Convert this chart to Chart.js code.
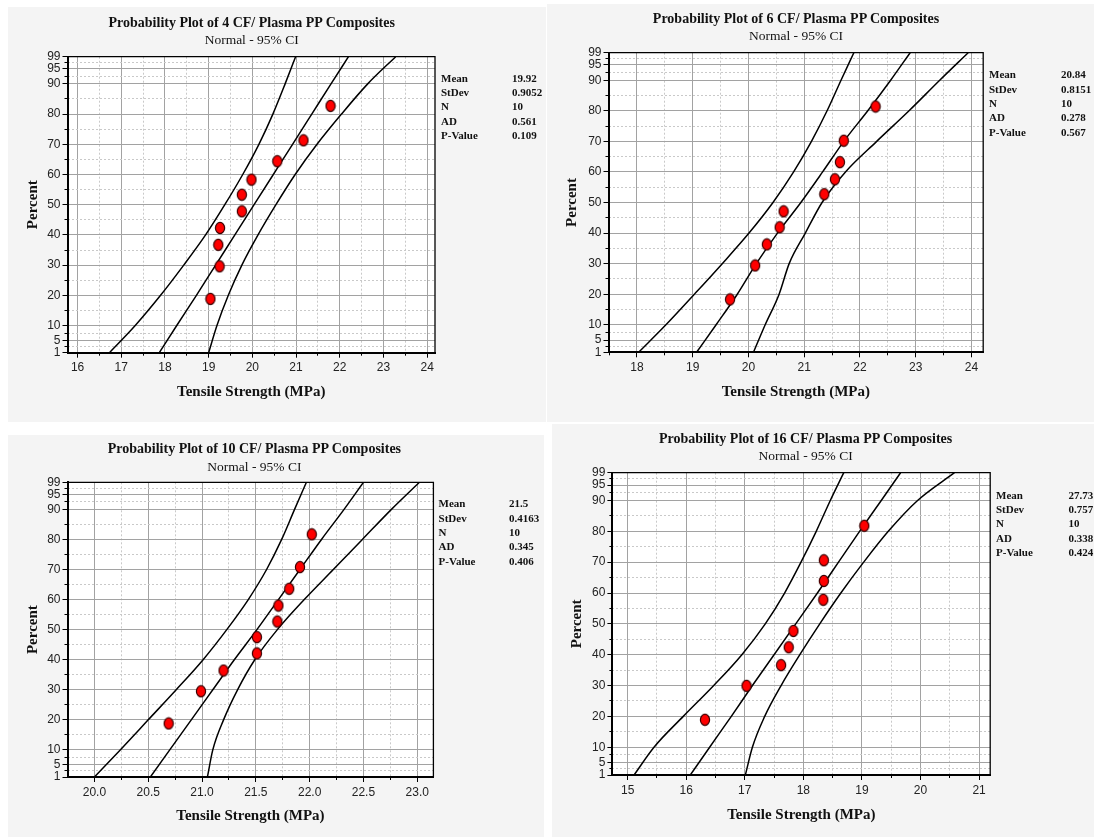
<!DOCTYPE html>
<html>
<head>
<meta charset="utf-8">
<script src="https://cdn.jsdelivr.net/npm/chart.js@4.4.1/dist/chart.umd.min.js"></script>
<style>
	body {
		margin: 0;
		width: 1094px;
		height: 837px;
		background: #ffffff;
		position: relative;
		overflow: hidden;
	}
	.panel {
		position: absolute;
		background: #f4f4f4;
	}
	.panel canvas {
		position: absolute;
		left: 0;
		top: 0;
	}
	.ptitle, .psub {
		position: absolute;
		transform: translate(-50%, -50%);
		white-space: nowrap;
		font-family: "Liberation Serif", serif;
		color: #111;
	}
	.ptitle {
		font-size: 14px;
		font-weight: bold;
	}
	.psub {
		font-size: 13.5px;
	}
	.stat {
		position: absolute;
		transform: translateY(-50%);
		white-space: nowrap;
		font-family: "Liberation Serif", serif;
		font-size: 11px;
		font-weight: bold;
		color: #111;
	}
</style>
</head>
<body>
<script>
"use strict";

const pctLevels = [1, 10, 20, 30, 40, 50, 60, 70, 80, 90, 99];
const yTickValues = [1, 5, 10, 20, 30, 40, 50, 60, 70, 80, 90, 95, 99];
const statLabels = ["Mean", "StDev", "N", "AD", "P-Value"];

// 4 CF
const cf4Title = "Probability Plot of 4 CF/ Plasma PP Composites";
const cf4X = [19.04, 19.25, 19.22, 19.26, 19.76, 19.76, 19.98, 20.57, 21.17, 21.79];
const cf4Pct = [18.8, 29.6, 36.7, 42.3, 47.8, 53.3, 58.3, 64.4, 71.3, 82.7];
const cf4Fit = [17.87, 18.27, 18.72, 19.16, 19.60, 20.04, 20.48, 20.92, 21.36, 21.80, 22.20];
const cf4Lower = [16.73, 17.32, 17.90, 18.43, 18.93, 19.37, 19.78, 20.15, 20.47, 20.75, 20.99];
const cf4Upper = [19.00, 19.19, 19.45, 19.76, 20.13, 20.54, 20.98, 21.48, 22.04, 22.64, 23.28];
const cf4Ticks = [16, 17, 18, 19, 20, 21, 22, 23, 24];
const cf4Stats = ["19.92", "0.9052", "10", "0.561", "0.109"];

// 6 CF
const cf6Title = "Probability Plot of 6 CF/ Plasma PP Composites";
const cf6X = [19.67, 20.12, 20.33, 20.56, 20.63, 21.36, 21.55, 21.64, 21.71, 22.28];
const cf6Pct = [18.3, 29.4, 36.3, 41.9, 47.1, 52.7, 57.6, 63.2, 70.2, 81.4];
const cf6Fit = [19.07, 19.42, 19.80, 20.14, 20.52, 20.94, 21.33, 21.71, 22.14, 22.55, 22.90];
const cf6Lower = [18.03, 18.52, 19.03, 19.53, 20.01, 20.44, 20.81, 21.13, 21.41, 21.66, 21.89];
const cf6Upper = [20.09, 20.30, 20.55, 20.73, 21.02, 21.32, 21.74, 22.30, 22.88, 23.43, 23.94];
const cf6Ticks = [18, 19, 20, 21, 22, 23, 24];
const cf6Stats = ["20.84", "0.8151", "10", "0.278", "0.567"];

// 10 CF
const cf10Title = "Probability Plot of 10 CF/ Plasma PP Composites";
const cf10X = [20.69, 20.99, 21.20, 21.51, 21.51, 21.70, 21.71, 21.81, 21.91, 22.02];
const cf10Pct = [18.8, 29.5, 36.4, 42.1, 47.5, 52.7, 58.0, 63.6, 70.8, 81.7];
const cf10Fit = [20.52, 20.70, 20.90, 21.10, 21.30, 21.51, 21.71, 21.91, 22.11, 22.32, 22.50];
const cf10Lower = [20.00, 20.24, 20.50, 20.76, 21.01, 21.23, 21.43, 21.60, 21.74, 21.86, 21.97];
const cf10Upper = [21.05, 21.10, 21.20, 21.33, 21.49, 21.70, 21.95, 22.22, 22.49, 22.76, 23.02];
const cf10Ticks = [20.0, 20.5, 21.0, 21.5, 22.0, 22.5, 23.0];
const cf10Stats = ["21.5", "0.4163", "10", "0.345", "0.406"];

// 16 CF
const cf16Title = "Probability Plot of 16 CF/ Plasma PP Composites";
const cf16X = [16.32, 17.03, 17.62, 17.75, 17.83, 18.34, 18.35, 18.35, 19.04];
const cf16Pct = [18.9, 29.9, 36.6, 42.4, 47.7, 57.8, 63.9, 70.6, 81.8];
const cf16Fit = [16.07, 16.40, 16.77, 17.13, 17.50, 17.87, 18.24, 18.60, 18.96, 19.33, 19.66];
const cf16Lower = [15.11, 15.45, 15.95, 16.47, 16.95, 17.35, 17.68, 17.96, 18.22, 18.46, 18.69];
const cf16Upper = [17.01, 17.13, 17.34, 17.62, 17.94, 18.28, 18.64, 19.03, 19.45, 19.95, 20.58];
const cf16Ticks = [15, 16, 17, 18, 19, 20, 21];
const cf16Stats = ["27.73", "0.757", "10", "0.338", "0.424"];

const panels = [
	{ title: cf4Title, x: cf4X, pct: cf4Pct, fit: cf4Fit, lower: cf4Lower, upper: cf4Upper, ticks: cf4Ticks, stats: cf4Stats, min: 15.77, max: 24.18, digits: 0 },
	{ title: cf6Title, x: cf6X, pct: cf6Pct, fit: cf6Fit, lower: cf6Lower, upper: cf6Upper, ticks: cf6Ticks, stats: cf6Stats, min: 17.49, max: 24.21, digits: 0 },
	{ title: cf10Title, x: cf10X, pct: cf10Pct, fit: cf10Fit, lower: cf10Lower, upper: cf10Upper, ticks: cf10Ticks, stats: cf10Stats, min: 19.75, max: 23.15, digits: 1 },
	{ title: cf16Title, x: cf16X, pct: cf16Pct, fit: cf16Fit, lower: cf16Lower, upper: cf16Upper, ticks: cf16Ticks, stats: cf16Stats, min: 14.74, max: 21.19, digits: 0 },
];

// where each panel sits on the page, and where its plot box sits inside it
const layouts = [
	{ box: [8, 7, 538, 415], area: [59.5, 49.7, 427, 345.7], titleX: 243.7, titleY: 16, subY: 33, xLabY: 384.7, yLabX: 25, statX: 433, valX: 504, statY: 70.7 },
	{ box: [547, 4, 547, 418], area: [61.5, 48.7, 436.2, 348.3], titleX: 249, titleY: 15, subY: 32, xLabY: 387.7, yLabX: 25, statX: 442, valX: 514, statY: 70.3 },
	{ box: [8, 435, 536, 402], area: [59.5, 47.3, 425.4, 342], titleX: 246.4, titleY: 14.3, subY: 31.7, xLabY: 381, yLabX: 25, statX: 430.6, valX: 501, statY: 68.3 },
	{ box: [552, 424, 542, 413], area: [60.4, 48.7, 438.2, 351], titleX: 253.6, titleY: 15, subY: 32, xLabY: 391, yLabX: 24.7, statX: 444, valX: 516.5, statY: 70.7 },
];

const SOLID_GRID = "#a2a2a2";
const DOT_GRID = "#c9c9c9";

// red oval marker, a little taller than wide like the original
function ovalDot() {
	const c = document.createElement("canvas");
	c.width = 12;
	c.height = 14;
	const g = c.getContext("2d");
	g.beginPath();
	g.ellipse(6, 7, 4.6, 5.6, 0, 0, 2 * Math.PI);
	g.fillStyle = "#ff0000";
	g.fill();
	g.lineWidth = 1.2;
	g.strokeStyle = "#3a0000";
	g.stroke();
	return c;
}
const DOT = ovalDot();

function midTicks(values, min, max) {
	const out = [];
	const step = values[1] - values[0];
	const all = [values[0] - step].concat(values, [values[values.length - 1] + step]);
	for (let i = 0; i < all.length - 1; ++i) {
		const v = (all[i] + all[i + 1]) / 2;
		if (v > min && v < max) {
			out.push({ value: v });
		}
	}
	return out;
}

function yMidTicks() {
	const out = [];
	for (let i = 0; i < yTickValues.length - 1; ++i) {
		out.push({ value: (yTickValues[i] + yTickValues[i + 1]) / 2 });
	}
	return out;
}

function curve(xs) {
	return xs.map((v, i) => ({ x: v, y: pctLevels[i] }));
}

const plotFrame = {
	id: "plotFrame",
	beforeDraw(chart) {
		const { ctx, chartArea: a } = chart;
		ctx.save();
		ctx.fillStyle = "#ffffff";
		ctx.fillRect(a.left, a.top, a.right - a.left, a.bottom - a.top);
		ctx.restore();
	},
	afterDatasetsDraw(chart) {
		const { ctx, chartArea: a } = chart;
		ctx.save();
		ctx.strokeStyle = "#000000";
		ctx.lineWidth = 1.3;
		ctx.beginPath();
		ctx.moveTo(a.left, a.top);
		ctx.lineTo(a.right, a.top);
		ctx.lineTo(a.right, a.bottom);
		ctx.stroke();
		ctx.restore();
	},
};

function addText(parent, cls, text, x, y) {
	const el = document.createElement("div");
	el.className = cls;
	el.textContent = text;
	el.style.left = x + "px";
	el.style.top = y + "px";
	parent.appendChild(el);
}

function buildPanel(d, L) {
	const [bx, by, bw, bh] = L.box;
	const [al, at, ar, ab] = L.area;

	const div = document.createElement("div");
	div.className = "panel";
	div.style.left = bx + "px";
	div.style.top = by + "px";
	div.style.width = bw + "px";
	div.style.height = bh + "px";
	document.body.appendChild(div);

	const canvas = document.createElement("canvas");
	canvas.width = bw;
	canvas.height = bh;
	canvas.style.width = bw + "px";
	canvas.style.height = bh + "px";
	div.appendChild(canvas);

	addText(div, "ptitle", d.title, L.titleX, L.titleY);
	addText(div, "psub", "Normal - 95% CI", L.titleX, L.subY);
	for (let i = 0; i < statLabels.length; ++i) {
		addText(div, "stat", statLabels[i], L.statX, L.statY + i * 14.3);
		addText(div, "stat", d.stats[i], L.valX, L.statY + i * 14.3);
	}

	const lineStyle = {
		type: "line",
		borderColor: "#000000",
		borderWidth: 1.5,
		pointRadius: 0,
		cubicInterpolationMode: "monotone",
		fill: false,
		xAxisID: "x",
		yAxisID: "y",
	};

	const titleFont = { family: "Liberation Serif", size: 15, weight: "bold" };

	return new Chart(canvas, {
		type: "scatter",
		data: {
			datasets: [
				{
					label: "data",
					data: d.x.map((v, i) => ({ x: v, y: d.pct[i] })),
					pointStyle: DOT,
					pointRadius: 5,
					xAxisID: "x",
					yAxisID: "y",
				},
				Object.assign({ label: "fit", data: curve(d.fit) }, lineStyle),
				Object.assign({ label: "lower", data: curve(d.lower) }, lineStyle),
				Object.assign({ label: "upper", data: curve(d.upper) }, lineStyle),
			],
		},
		options: {
			responsive: false,
			animation: false,
			devicePixelRatio: 1,
			layout: {
				padding: { left: 0, top: at, right: bw - ar, bottom: 0 },
			},
			plugins: {
				legend: { display: false },
				tooltip: { enabled: false },
			},
			scales: {
				x: {
					type: "linear",
					position: "bottom",
					weight: 1,
					min: d.min,
					max: d.max,
					afterBuildTicks: s => { s.ticks = d.ticks.map(v => ({ value: v })); },
					afterFit: s => { s.height = bh - ab; },
					ticks: {
						autoSkip: false,
						maxRotation: 0,
						padding: 3,
						color: "#222222",
						font: { family: "Liberation Sans", size: 12 },
						callback: v => Number(v).toFixed(d.digits),
					},
					grid: { color: SOLID_GRID, lineWidth: 1, tickLength: 5, tickColor: "#000000" },
					border: { color: "#000000", width: 2 },
					title: {
						display: true,
						text: "Tensile Strength (MPa)",
						color: "#111111",
						font: titleFont,
						padding: { top: 0, bottom: bh - L.xLabY - 9 },
					},
				},
				xm: {
					type: "linear",
					position: "bottom",
					weight: 0,
					min: d.min,
					max: d.max,
					afterBuildTicks: s => { s.ticks = midTicks(d.ticks, d.min, d.max); },
					afterFit: s => { s.height = 0; },
					ticks: { display: false },
					grid: { color: DOT_GRID, lineWidth: 1, tickLength: 3, tickColor: "#000000" },
					border: { display: false, dash: [2, 2] },
				},
				y: {
					type: "linear",
					position: "left",
					weight: 1,
					min: 1,
					max: 99,
					afterBuildTicks: s => { s.ticks = yTickValues.map(v => ({ value: v })); },
					afterFit: s => { s.width = al; },
					ticks: {
						autoSkip: false,
						padding: 2,
						color: "#222222",
						font: { family: "Liberation Sans", size: 12 },
					},
					grid: { color: SOLID_GRID, lineWidth: 1, tickLength: 5, tickColor: "#000000" },
					border: { color: "#000000", width: 2 },
					title: {
						display: true,
						text: "Percent",
						color: "#111111",
						font: titleFont,
						padding: { top: L.yLabX - 9, bottom: 0 },
					},
				},
				ym: {
					type: "linear",
					position: "left",
					weight: 0,
					min: 1,
					max: 99,
					afterBuildTicks: s => { s.ticks = yMidTicks(); },
					afterFit: s => { s.width = 0; },
					ticks: { display: false },
					grid: { color: DOT_GRID, lineWidth: 1, tickLength: 3, tickColor: "#000000" },
					border: { display: false, dash: [2, 2] },
				},
			},
		},
		plugins: [plotFrame],
	});
}

for (let i = 0; i < panels.length; ++i) {
	buildPanel(panels[i], layouts[i]);
}
</script>
</body>
</html>
